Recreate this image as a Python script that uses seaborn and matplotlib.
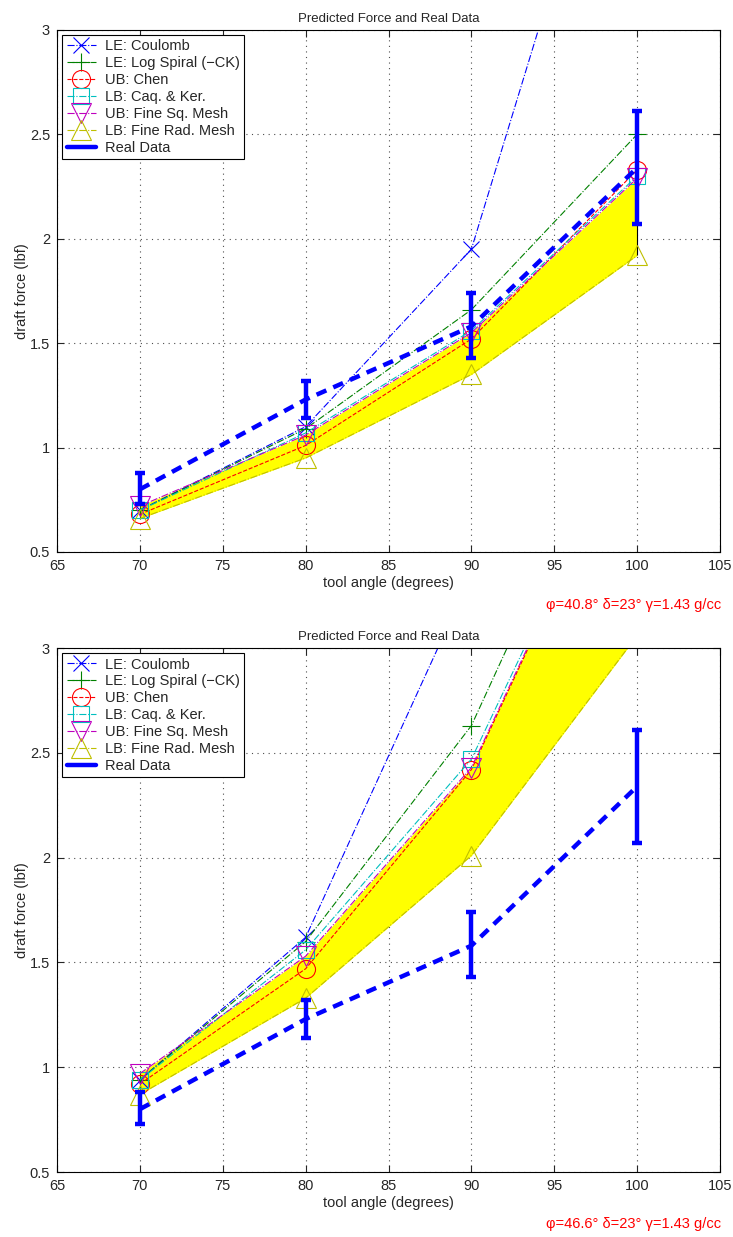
import numpy as np
import pandas as pd
import matplotlib
matplotlib.use("Agg")
import matplotlib.pyplot as plt
import seaborn as sns
from matplotlib.lines import Line2D
from matplotlib.ticker import FormatStrFormatter

# -------------------------
# Data
# -------------------------
angles = [70, 80, 90, 100]

real_force = [0.80, 1.23, 1.58, 2.34]
real_low = [0.73, 1.14, 1.43, 2.07]
real_high = [0.88, 1.32, 1.74, 2.61]

# phi = 40.8
coulomb_1 = [0.70, 1.10, 1.95, 4.55]
logspiral_1 = [0.70, 1.09, 1.66, 2.50]
chen_1 = [0.68, 1.01, 1.52, 2.33]
caq_1 = [0.70, 1.07, 1.56, 2.30]
finesq_1 = [0.72, 1.06, 1.55, 2.29]
finerad_1 = [0.66, 0.95, 1.35, 1.92]

# phi = 46.6
coulomb_2 = [0.94, 1.62, 3.35, 5.60]
logspiral_2 = [0.94, 1.60, 2.63, 4.35]
chen_2 = [0.92, 1.47, 2.42, 4.11]
caq_2 = [0.94, 1.56, 2.47, 4.13]
finesq_2 = [0.97, 1.53, 2.43, 4.12]
finerad_2 = [0.87, 1.33, 2.01, 3.06]

names = ["LE: Coulomb", "LE: Log Spiral (\u2212CK)", "UB: Chen",
         "LB: Caq. & Ker.", "UB: Fine Sq. Mesh", "LB: Fine Rad. Mesh"]

notes = ["\u03c6=40.8\u00b0 \u03b4=23\u00b0 \u03b3=1.43 g/cc",
         "\u03c6=46.6\u00b0 \u03b4=23\u00b0 \u03b3=1.43 g/cc"]

# styles (matlab-ish)
styles = {
    names[0]: dict(color=(0, 0, 1), marker="x", ms=11, ls="-."),
    names[1]: dict(color=(0, 0.5, 0), marker="+", ms=13, ls="-."),
    names[2]: dict(color=(1, 0, 0), marker="o", ms=13, ls="--"),
    names[3]: dict(color=(0, 0.75, 0.75), marker="s", ms=11, ls="-."),
    names[4]: dict(color=(0.75, 0, 0.75), marker="v", ms=14, ls="-."),
    names[5]: dict(color=(0.75, 0.75, 0), marker="^", ms=14, ls="-."),
}

FS = 10.5

sns.set_style("ticks")
plt.rcParams["font.family"] = ["Liberation Sans", "DejaVu Sans"]
plt.rcParams["font.size"] = FS


def draw_panel(ax, models, note, note_y):
    ub = models[names[4]]
    lb = models[names[5]]

    # area between the two mesh bounds
    ax.fill_between(angles, lb, ub, color="yellow", lw=0, zorder=1)
    ax.vlines(angles[-1], lb[-1], ub[-1], color="black", lw=0.8, zorder=1.5)

    for name in names:
        st = styles[name]
        sns.lineplot(
            x=angles, y=models[name], ax=ax,
            color=st["color"], linestyle=st["ls"], linewidth=0.8,
            marker=st["marker"], markersize=st["ms"],
            markerfacecolor="none", markeredgecolor=st["color"],
            markeredgewidth=0.8, errorbar=None, legend=False, zorder=2,
        )

    # real data
    sns.lineplot(
        x=angles, y=real_force, ax=ax, color="blue", linewidth=3.2,
        linestyle=(0, (2.4, 1.7)), errorbar=None, legend=False, zorder=4,
    )
    yerr = [np.subtract(real_force, real_low), np.subtract(real_high, real_force)]
    ax.errorbar(angles, real_force, yerr=yerr, fmt="none", ecolor="blue",
                elinewidth=3.2, capsize=3.8, capthick=3.2, zorder=4)

    ax.set_xlim(65, 105)
    ax.set_ylim(0.5, 3)
    ax.set_xticks(np.arange(65, 106, 5))
    ax.set_yticks(np.arange(0.5, 3.01, 0.5))
    ax.yaxis.set_major_formatter(FormatStrFormatter("%g"))
    ax.tick_params(direction="in", top=True, right=True, length=5,
                   width=0.8, labelsize=FS, pad=5)
    for sp in ax.spines.values():
        sp.set_visible(True)
        sp.set_linewidth(0.8)
        sp.set_color("black")
    ax.grid(True, linestyle=(0, (1, 4)), color="0.3", linewidth=0.8)
    ax.set_axisbelow(True)

    ax.set_title("Predicted Force and Real Data", fontsize=9.5, pad=6)
    ax.set_xlabel("tool angle (degrees)", fontsize=FS, labelpad=2)
    ax.set_ylabel("draft force (lbf)", fontsize=FS, labelpad=0.5)

    handles = []
    for name in names:
        st = styles[name]
        handles.append(Line2D([], [], color=st["color"], linestyle=st["ls"],
                              linewidth=0.8, marker=st["marker"],
                              markersize=st["ms"], markerfacecolor="none",
                              markeredgewidth=0.8))
    handles.append(Line2D([], [], color="blue", linewidth=3.2))
    leg = ax.legend(handles, names + ["Real Data"], loc="upper left",
                    fontsize=FS, numpoints=1, handlelength=2.05,
                    handletextpad=0.6, labelspacing=0.2, borderpad=0.3,
                    borderaxespad=0.35, fancybox=False, framealpha=1,
                    edgecolor="black")
    leg.get_frame().set_linewidth(0.8)
    leg.set_zorder(10)

    fig.text(0.984, note_y, note, ha="right", va="center", color="red",
             fontsize=FS)


fig = plt.figure(figsize=(7.33, 12.37), dpi=100)
ax1 = fig.add_axes([0.0778, 0.5538, 0.9045, 0.4220])
ax2 = fig.add_axes([0.0778, 0.0525, 0.9045, 0.4236])

models_1 = dict(zip(names, [coulomb_1, logspiral_1, chen_1, caq_1, finesq_1, finerad_1]))
models_2 = dict(zip(names, [coulomb_2, logspiral_2, chen_2, caq_2, finesq_2, finerad_2]))

draw_panel(ax1, models_1, notes[0], 1 - 605 / 1237)
draw_panel(ax2, models_2, notes[1], 1 - 1224 / 1237)

fig.savefig("out.png", dpi=100)
